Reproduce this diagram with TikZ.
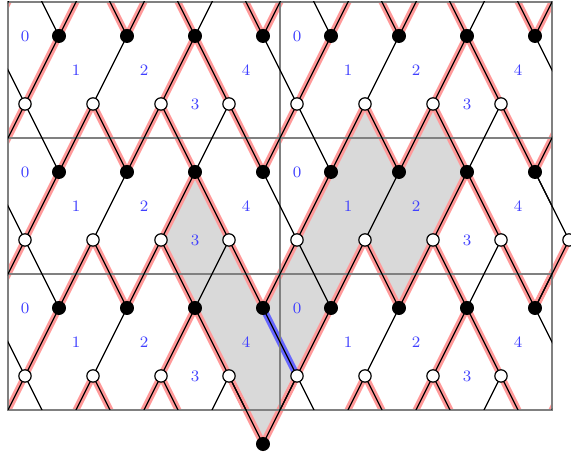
\documentclass[tikz,border=0pt]{standalone}
\usetikzlibrary{calc}
\begin{document}
\begin{tikzpicture}[x=0.6cm, y=1.2cm,
    lnk/.style={line width=0.6pt},
    zz/.style={line width=3.4pt, red!40},
    hl/.style={line width=3.4pt, blue!60},
    cellbox/.style={gray, line width=0.9pt},
    bv/.style={circle, fill=black, draw=black, inner sep=0pt, minimum size=6.6pt},
    wv/.style={circle, fill=white, draw=black, line width=0.6pt, inner sep=0pt, minimum size=6.2pt},
    face/.style={text=blue!75, font=\footnotesize}
]
\useasboundingbox (-0.235,-0.662) rectangle (16.559,6.029);
% lattice points
\foreach \c in {-1,...,2}
  \foreach \r in {-1,...,3}
    \foreach \k in {1,...,4} {
      \coordinate (b\c-\r-\k) at ({8*\c+2*\k-0.5},{2*\r+1.5});
      \coordinate (w\c-\r-\k) at ({8*\c+2*\k-1.5},{2*\r+0.5});
    }
% shaded faces
\fill[gray!30] (b0--1-4) -- (w0-0-4) -- (b0-0-3) -- (w0-1-3) -- (b0-1-3) -- (w0-1-4)
  -- (b0-0-4) -- (w1-1-1) -- (b1-1-1) -- (w1-2-2) -- (b1-1-2) -- (w1-2-3) -- (b1-1-3)
  -- (w1-1-3) -- (b1-0-2) -- (w1-1-2) -- (b1-0-1) -- (w1-0-1) -- cycle;
% zig-zag paths
\begin{scope}
  \clip (0,0) rectangle (16,6);
  \foreach \c in {-1,0,1}
    \foreach \r in {-1,...,2}
      \foreach \k/\dc/\dr/\w in {1/0/0/1, 1/0/1/2, 2/0/1/2, 2/0/1/3, 3/0/0/3, 3/0/0/4, 3/0/1/3, 4/0/1/4, 4/1/1/1} {
        \pgfmathtruncatemacro\cc{\c+\dc}
        \pgfmathtruncatemacro\rr{\r+\dr}
        \draw[zz] (b\c-\r-\k) -- (w\cc-\rr-\w);
      }
\end{scope}
\draw[zz] (w0-0-4) -- (b0--1-4) -- (w1-0-1);
\draw[zz] (b1-0-4) -- (w2-1-1);
\draw[hl] (b0-0-4) -- (w1-0-1);
% fundamental domains
\foreach \c in {0,1}
  \foreach \r in {0,1,2}
    \draw[cellbox] (8*\c,2*\r) rectangle +(8,2);
% edges
\begin{scope}
  \clip (0,0) rectangle (16,6);
  \foreach \c in {-1,0,1}
    \foreach \r in {-1,...,2}
      \foreach \k/\dc/\dr/\w in {1/0/0/1, 1/0/1/1, 1/0/1/2, 2/0/0/2, 2/0/1/2, 2/0/1/3, 3/0/0/3, 3/0/0/4, 3/0/1/3, 3/0/1/4, 4/0/1/4, 4/1/1/1, 4/1/0/1} {
        \pgfmathtruncatemacro\cc{\c+\dc}
        \pgfmathtruncatemacro\rr{\r+\dr}
        \draw[lnk] (b\c-\r-\k) -- (w\cc-\rr-\w);
      }
\end{scope}
\draw[lnk] (w0-0-4) -- (b0--1-4) -- (w1-0-1);
\draw[lnk] (b1-1-4) -- (w2-1-1) -- (b1-0-4);
% vertices
\foreach \c in {0,1}
  \foreach \r in {0,1,2}
    \foreach \k in {1,...,4} {
      \node[bv] (B\c-\r-\k) at (b\c-\r-\k) {};
      \node[wv] (W\c-\r-\k) at (w\c-\r-\k) {};
    }
\node[bv] (Bbot) at (b0--1-4) {};
\node[wv] (Wext) at (w2-1-1) {};
% face labels
\foreach \c in {0,1}
  \foreach \r in {0,1,2}
    \foreach \n/\x/\y in {0/0.5/1.5, 1/2/1, 2/4/1, 3/5.5/0.5, 4/7/1}
      \node[face] (f\c-\r-\n) at (8*\c+\x,2*\r+\y) {\n};
\end{tikzpicture}
\end{document}
